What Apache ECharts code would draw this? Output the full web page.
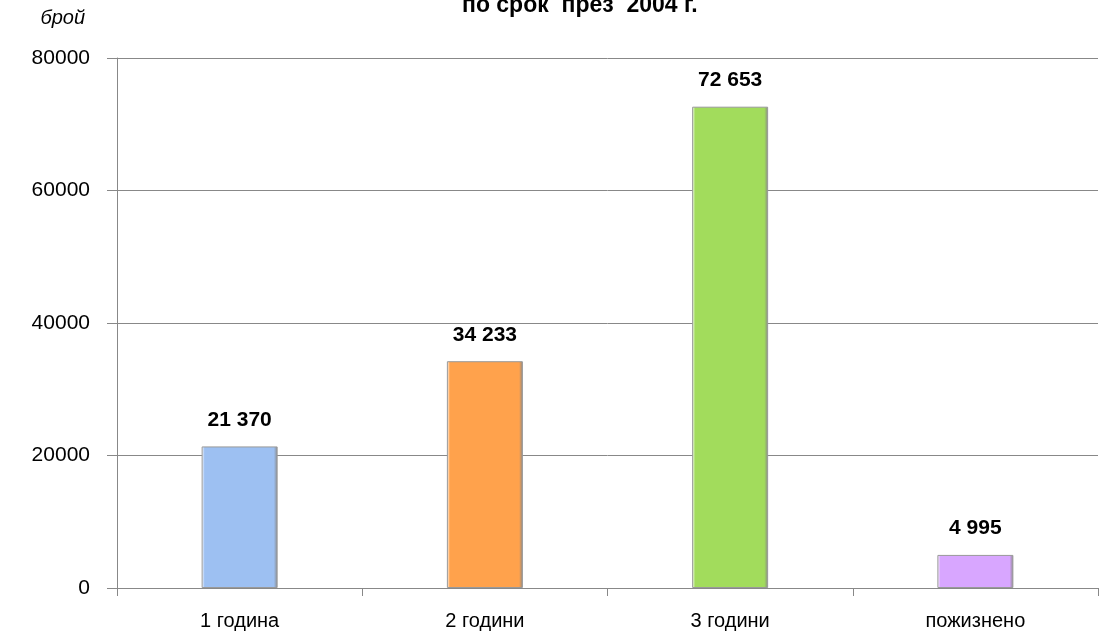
<!DOCTYPE html>
<html><head><meta charset="utf-8">
<script src="https://cdn.jsdelivr.net/npm/echarts@6/dist/echarts.min.js"></script>
<style>html,body{margin:0;padding:0;background:#fff}#c{width:1113px;height:633px}</style>
</head><body><div id="c"></div>
<script>
const categories = ['1 година', '2 години', '3 години', 'пожизнено'];
const values = [21370, 34233, 72653, 4995];
const colors = ['#9DC0F2', '#FFA24C', '#A2DC5C', '#D8A6FF'];
const yTicks = [0, 20000, 40000, 60000, 80000];
const FONT = '"Liberation Sans Narrow", "Arial Narrow", "Liberation Sans", Arial, sans-serif';
const chart = echarts.init(document.getElementById('c'));
chart.setOption({
  animation: false,
  textStyle: { fontFamily: FONT },
  title: {
    text: 'по срок  през  2004 г.',
    left: 457, top: -11,
    textStyle: { fontFamily: FONT, fontSize: 23, fontWeight: 'bold', color: '#000' }
  },
  grid: { left: 117, right: 15, top: 58, bottom: 45 },
  xAxis: {
    type: 'category', data: categories,
    axisLine: { lineStyle: { color: '#888', width: 1 } },
    axisTick: { show: true, length: 8, lineStyle: { color: '#888' } },
    axisLabel: { color: '#000', fontSize: 20, margin: 23, fontFamily: FONT }
  },
  yAxis: {
    type: 'value', min: 0, max: 80000, interval: 20000,
    name: 'брой', nameLocation: 'end', nameGap: 30,
    nameTextStyle: { fontStyle: 'italic', fontSize: 20, color: '#000', align: 'right', padding: [0, 32, 0, 0], fontFamily: FONT },
    axisLine: { show: true, lineStyle: { color: '#888' } },
    axisTick: { show: true, length: 10, lineStyle: { color: '#888' } },
    axisLabel: { color: '#000', fontSize: 21, margin: 27, fontFamily: FONT,
      formatter: v => yTicks.includes(v) ? String(v) : '' },
    splitLine: { lineStyle: { color: '#888', width: 1 } }
  },
  series: [{
    type: 'bar', barWidth: 76,
    data: values.map((v, i) => ({
      value: v,
      itemStyle: {
        color: new echarts.graphic.LinearGradient(0, 0, 1, 0, [
          { offset: 0, color: '#ffffff' },
          { offset: 0.04, color: colors[i] },
          { offset: 0.95, color: colors[i] },
          { offset: 1, color: '#888888' }
        ]),
        borderColor: '#999', borderWidth: 1
      }
    })),
    label: {
      show: true, position: 'top', distance: 16,
      fontSize: 21, fontWeight: 'bold', color: '#000', fontFamily: FONT,
      formatter: p => String(p.value).replace(/\B(?=(\d{3})+(?!\d))/g, ' ')
    }
  }]
});
</script></body></html>
